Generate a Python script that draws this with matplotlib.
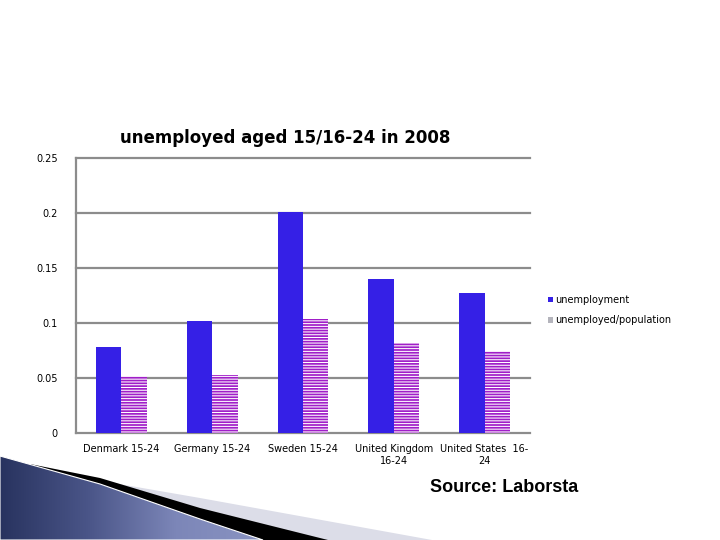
import numpy as np
import matplotlib
matplotlib.use("Agg")
import matplotlib.pyplot as plt
from matplotlib.patches import Polygon, Patch

countries = ["Denmark 15-24", "Germany 15-24", "Sweden 15-24",
             "United Kingdom\n16-24", "United States  16-\n24"]
unemployment = [0.078, 0.102, 0.201, 0.140, 0.127]
unemployed_pop = [0.052, 0.053, 0.104, 0.082, 0.075]
yticks = [0, 0.05, 0.1, 0.15, 0.2, 0.25]
ytick_labels = ["0", "0.05", "0.1", "0.15", "0.2", "0.25"]

W, H = 720, 540


def fx(px):
    return px / W


def fy(py):
    return 1 - py / H


plt.rcParams['hatch.linewidth'] = 0.75
fig = plt.figure(figsize=(7.2, 5.4), dpi=100)

# decorative swoosh at bottom left (pixel coordinates)
deco = fig.add_axes([0, 0, 1, 1], zorder=0)
deco.axis("off")
deco.add_patch(Polygon([(50, 472), (200, 498), (432, 540), (0, 540)], closed=True,
                       facecolor="#dcdde8", edgecolor="none", zorder=1))
deco.add_patch(Polygon([(30, 464), (100, 478), (200, 508), (328, 540), (0, 540)],
                       closed=True, facecolor="#000000", edgecolor="none", zorder=2))
grad = np.linspace(0, 1, 256).reshape(1, -1)
cmap = matplotlib.colors.LinearSegmentedColormap.from_list(
    "deco", ["#28335f", "#4a5588", "#7c86b8", "#8a94c2"])
im = deco.imshow(grad, extent=[0, 264, 540, 455], cmap=cmap, aspect="auto",
                 zorder=3)
blue_poly = Polygon([(0, 456), (100, 484), (200, 519), (263, 540), (0, 540)],
                    closed=True, facecolor="none", edgecolor="white",
                    linewidth=0.8, zorder=4)
deco.add_patch(blue_poly)
im.set_clip_path(blue_poly)
deco.set_xlim(0, W)
deco.set_ylim(H, 0)

ax = fig.add_axes([fx(76), fy(433), fx(530) - fx(76), fy(158) - fy(433)], zorder=1)
ax.patch.set_alpha(0)

x = np.arange(len(countries))
w = 0.28
ax.bar(x - w / 2, unemployment, w, color="#3520e6", linewidth=0, zorder=3)
ax.bar(x + w / 2, unemployed_pop, w, color="#a01ec8", edgecolor="white",
       hatch="------", linewidth=0, zorder=3)

ax.set_xlim(-0.5, len(countries) - 0.5)
ax.set_ylim(0, 0.25)
ax.set_yticks(yticks)
ax.set_yticklabels(ytick_labels, fontsize=7)
ax.set_xticks(x)
ax.set_xticklabels(countries, fontsize=7, linespacing=1.2)
ax.tick_params(length=0, pad=13, axis="y")
ax.tick_params(length=0, pad=8, axis="x")
ax.yaxis.grid(True, color="#8c8c8c", linewidth=1.6, zorder=1)
for gl in ax.get_ygridlines():
    gl.set_clip_on(False)
ax.set_axisbelow(True)
for s in ["top", "right", "bottom"]:
    ax.spines[s].set_visible(False)
ax.spines["left"].set_color("#8c8c8c")
ax.spines["left"].set_linewidth(1.6)

handles = [Patch(facecolor="#3520e6", edgecolor="none"),
           Patch(facecolor="#b4b4bc", edgecolor="none")]
fig.legend(handles, ["unemployment", "unemployed/population"],
           loc="upper left", bbox_to_anchor=(fx(539), fy(286)),
           frameon=False, fontsize=7, handlelength=0.5, handleheight=0.5,
           handletextpad=0.3, labelspacing=1.1)

fig.text(fx(285), fy(138), "unemployed aged 15/16-24 in 2008", ha="center",
         va="center", fontsize=12, fontweight="bold")
fig.text(fx(504), fy(488), "Source: Laborsta", ha="center", va="center",
         fontsize=13, fontweight="bold", family="Liberation Sans")

fig.savefig("out.png", dpi=100)
